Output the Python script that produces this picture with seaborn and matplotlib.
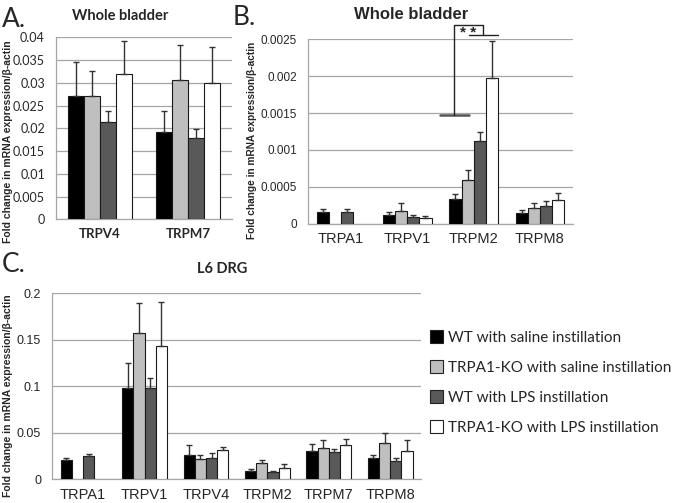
import matplotlib
matplotlib.use("Agg")
import matplotlib.pyplot as plt
import matplotlib.ticker as mticker
from matplotlib.patches import Patch
import numpy as np
import pandas as pd
import seaborn as sns

# Grupos de tratamiento
GROUPS = ["WT with saline instillation",
          "TRPA1-KO with saline instillation",
          "WT with LPS instillation",
          "TRPA1-KO with LPS instillation"]
COLORS = ["#000000", "#bfbfbf", "#595959", "#ffffff"]

# Panel A: vejiga completa
genes_a = ["TRPV4", "TRPM7"]
a_wt_sal = [0.0270, 0.0193]
a_ko_sal = [0.0270, 0.0306]
a_wt_lps = [0.0213, 0.0178]
a_ko_lps = [0.0320, 0.0299]
a_err_wt_sal = [0.0075, 0.0044]
a_err_ko_sal = [0.0055, 0.0077]
a_err_wt_lps = [0.0024, 0.0021]
a_err_ko_lps = [0.0073, 0.0080]

# Panel B: vejiga completa
genes_b = ["TRPA1", "TRPV1", "TRPM2", "TRPM8"]
b_wt_sal = [0.000154, 0.000122, 0.000335, 0.000145]
b_ko_sal = [np.nan, 0.000176, 0.000588, 0.000208]
b_wt_lps = [0.000163, 0.000090, 0.001117, 0.000244]
b_ko_lps = [np.nan, 0.000081, 0.001971, 0.000326]
b_err_wt_sal = [0.000040, 0.000032, 0.000063, 0.000036]
b_err_ko_sal = [np.nan, 0.000100, 0.000144, 0.000068]
b_err_wt_lps = [0.000031, 0.000023, 0.000131, 0.000059]
b_err_ko_lps = [np.nan, 0.000018, 0.000502, 0.000090]

# Panel C: L6 DRG
genes_c = ["TRPA1", "TRPV1", "TRPV4", "TRPM2", "TRPM7", "TRPM8"]
c_wt_sal = [0.0212, 0.0986, 0.0262, 0.0093, 0.0305, 0.0226]
c_ko_sal = [np.nan, 0.1570, 0.0215, 0.0172, 0.0337, 0.0394]
c_wt_lps = [0.0247, 0.0986, 0.0226, 0.0075, 0.0290, 0.0194]
c_ko_lps = [np.nan, 0.1434, 0.0312, 0.0122, 0.0366, 0.0308]
c_err_wt_sal = [0.0021, 0.0261, 0.0104, 0.0014, 0.0079, 0.0039]
c_err_ko_sal = [np.nan, 0.0322, 0.0050, 0.0036, 0.0086, 0.0104]
c_err_wt_lps = [0.0029, 0.0100, 0.0054, 0.0018, 0.0036, 0.0035]
c_err_ko_lps = [np.nan, 0.0476, 0.0032, 0.0047, 0.0071, 0.0119]

BAR_W = 0.73
YLABEL = "Fold change in mRNA expression/\u03b2-actin"


def make_df(genes, vals, errs):
    rows = []
    for g_i, (v, e) in enumerate(zip(vals, errs)):
        for k, gene in enumerate(genes):
            if not np.isnan(v[k]):
                rows.append({"gene": gene, "group": GROUPS[g_i], "value": v[k],
                             "err": e[k], "x": k + (g_i - 1.5) * BAR_W / 4})
    return pd.DataFrame(rows)


def draw_panel(ax, genes, df, ymax, ystep, tickfont, tickweight, ticksize, xsize):
    sns.barplot(data=df, x="gene", y="value", hue="group", order=genes,
                hue_order=GROUPS, palette=COLORS, width=BAR_W, edgecolor="#1a1a1a",
                linewidth=0.8, errorbar=None, legend=False, ax=ax, zorder=3)
    ax.errorbar(df["x"], df["value"], yerr=[np.zeros(len(df)), df["err"]],
                fmt="none", ecolor="#333333", elinewidth=1.0, capsize=2.5,
                capthick=1.0, zorder=4)
    ax.set_xlim(-0.5, len(genes) - 0.5)
    ax.set_ylim(0, ymax)
    ax.yaxis.set_major_locator(mticker.MultipleLocator(ystep))
    ax.yaxis.set_major_formatter(mticker.FuncFormatter(lambda v, p: "%g" % round(v, 6)))
    ax.grid(axis="y", color="#a6a6a6", linewidth=0.9, zorder=0)
    ax.grid(axis="x", visible=False)
    ax.set_axisbelow(True)
    ax.set_facecolor("white")
    for s in ["top", "right"]:
        ax.spines[s].set_visible(False)
    for s in ["left", "bottom"]:
        ax.spines[s].set_color("#a6a6a6")
        ax.spines[s].set_linewidth(0.9)
    ax.set_xticks(np.arange(len(genes) + 1) - 0.5, minor=True)
    ax.tick_params(axis="x", which="major", length=0, pad=6)
    ax.tick_params(axis="x", which="minor", length=4, color="#a6a6a6", direction="out")
    ax.tick_params(axis="y", length=4, color="#a6a6a6", direction="out", pad=4)
    for lab in ax.get_yticklabels():
        lab.set_fontfamily(tickfont)
        lab.set_fontsize(ticksize)
    for lab in ax.get_xticklabels():
        lab.set_fontfamily(tickfont)
        lab.set_fontweight(tickweight)
        lab.set_fontsize(xsize)
    ax.set_xlabel("")
    ax.set_ylabel("")


sns.set_theme(style="white")
plt.rcParams["font.family"] = ["Liberation Sans", "DejaVu Sans"]

fig = plt.figure(figsize=(6.85, 5.03), dpi=100)
fig.patch.set_facecolor("white")

ax_a = fig.add_axes([0.0818, 0.564, 0.2569, 0.3618])
ax_b = fig.add_axes([0.4496, 0.5553, 0.3869, 0.3666])
ax_c = fig.add_axes([0.0764, 0.0471, 0.5382, 0.3698])

df_a = make_df(genes_a, [a_wt_sal, a_ko_sal, a_wt_lps, a_ko_lps],
               [a_err_wt_sal, a_err_ko_sal, a_err_wt_lps, a_err_ko_lps])
df_b = make_df(genes_b, [b_wt_sal, b_ko_sal, b_wt_lps, b_ko_lps],
               [b_err_wt_sal, b_err_ko_sal, b_err_wt_lps, b_err_ko_lps])
df_c = make_df(genes_c, [c_wt_sal, c_ko_sal, c_wt_lps, c_ko_lps],
               [c_err_wt_sal, c_err_ko_sal, c_err_wt_lps, c_err_ko_lps])

draw_panel(ax_a, genes_a, df_a, 0.04, 0.005, "Lato", "bold", 9, 9.5)
draw_panel(ax_b, genes_b, df_b, 0.0025, 0.0005, "Liberation Sans", "normal", 8.5, 10.5)
draw_panel(ax_c, genes_c, df_c, 0.2, 0.05, "Liberation Sans", "normal", 9, 10.5)

# Corchete de significancia en TRPM2 (panel B)
k = 2
lo_y, top_y, mid_y = 0.00147, 0.00269, 0.00256
ax_b.plot([k - 0.51, k - 0.07], [lo_y, lo_y], color="#555555", lw=1.8, clip_on=False, zorder=5)
ax_b.plot([k - 0.30, k - 0.30, k + 0.14, k + 0.14], [lo_y, top_y, top_y, mid_y],
          color="#222222", lw=1.0, clip_on=False, zorder=5)
ax_b.plot([k - 0.07, k + 0.37], [mid_y, mid_y], color="#222222", lw=1.0, clip_on=False, zorder=5)
ax_b.text(k - 0.09, 0.00258, "* *", ha="center", va="center", fontsize=11,
          fontweight="bold", clip_on=False)

# Titulos y letras de panel
fig.text(0.003, 0.962, "A.", fontsize=19, family="Lato", ha="left", va="center")
fig.text(0.176, 0.968, "Whole bladder", fontsize=10.5, family="Lato", fontweight="bold",
         ha="center", va="center")
fig.text(0.340, 0.965, "B.", fontsize=19, family="Lato", ha="left", va="center")
fig.text(0.600, 0.972, "Whole bladder", fontsize=12, fontweight="bold",
         ha="center", va="center")
fig.text(0.003, 0.474, "C.", fontsize=19, family="Lato", ha="left", va="center")
fig.text(0.325, 0.466, "L6 DRG", fontsize=10.5, family="Lato", fontweight="bold",
         ha="center", va="center")

# Etiquetas del eje y
fig.text(0.012, 0.718, YLABEL, rotation=90, fontsize=7.5, fontweight="bold",
         ha="center", va="center")
fig.text(0.368, 0.72, YLABEL, rotation=90, fontsize=7.3, fontweight="bold",
         ha="center", va="center")
fig.text(0.012, 0.214, YLABEL, rotation=90, fontsize=7.5, fontweight="bold",
         ha="center", va="center")

# Leyenda
handles = [Patch(facecolor=c, edgecolor="#222222", linewidth=0.8) for c in COLORS]
fig.legend(handles, GROUPS, loc="upper left", bbox_to_anchor=(0.628, 0.343),
           frameon=False, prop={"family": "Lato", "size": 11},
           handlelength=0.85, handleheight=0.85, handletextpad=0.3,
           labelspacing=1.02, borderpad=0, borderaxespad=0)

fig.savefig("out.png", dpi=100, facecolor="white")
